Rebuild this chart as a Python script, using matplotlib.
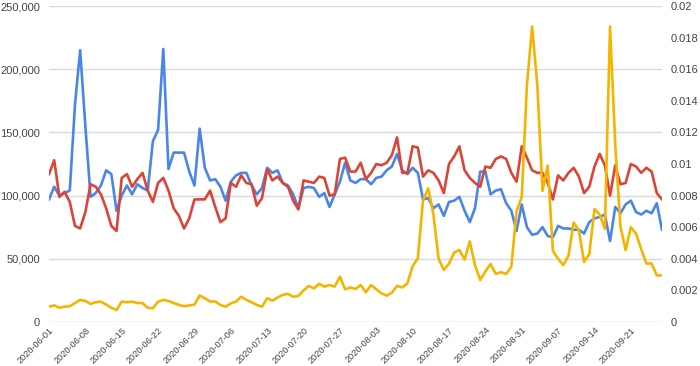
import matplotlib
matplotlib.use("Agg")
import matplotlib.pyplot as plt
import matplotlib.ticker as mticker
import numpy as np
import pandas as pd

dates = pd.date_range("2020-06-01", "2020-09-27", freq="D")

blue_k = [97, 107, 100, 102, 104, 172, 215, 155, 99, 102, 108, 120, 117, 88, 100, 108, 101, 109, 106, 104,
          143, 152, 216, 121, 134, 134, 134, 119, 108, 153, 122, 112, 113, 107, 96, 111, 116, 118, 118, 108,
          101, 106, 122, 118, 120, 110, 108, 101, 90, 106, 107, 106, 99, 102, 91, 101, 111, 126, 112, 110,
          113, 113, 109, 114, 115, 120, 123, 133, 120, 117, 122, 118, 97, 98, 90, 93, 84, 95, 96, 99,
          88, 79, 90, 119, 119, 101, 104, 105, 94, 88, 72, 93, 75, 69, 70, 75, 68, 67, 76, 74,
          74, 73, 73, 70, 79, 82, 83, 85, 64, 91, 86, 93, 96, 87, 85, 88, 86, 94, 73]

red_k = [117, 128, 99, 103, 95, 76, 74, 87, 109, 107, 101, 90, 76, 72, 114, 117, 107, 113, 118, 104,
         95, 110, 114, 104, 90, 84, 74, 82, 97, 97, 97, 104, 91, 79, 82, 110, 107, 116, 110, 109,
         92, 98, 121, 112, 115, 110, 107, 96, 89, 112, 111, 110, 115, 114, 100, 101, 129, 130, 119, 119,
         126, 113, 118, 125, 124, 126, 132, 146, 118, 118, 139, 138, 115, 120, 118, 112, 102, 125, 131, 139,
         120, 114, 110, 107, 123, 122, 129, 131, 129, 118, 111, 139, 130, 120, 118, 118, 110, 97, 116, 112,
         118, 122, 115, 102, 107, 123, 133, 124, 100, 124, 109, 110, 125, 123, 118, 122, 119, 102, 97]

yellow_m = [0.97, 1.05, 0.9, 0.97, 1.0, 1.2, 1.4, 1.33, 1.15, 1.25, 1.29, 1.1, 0.9, 0.76, 1.29, 1.25, 1.29, 1.2, 1.2, 0.9,
            0.87, 1.29, 1.4, 1.33, 1.2, 1.08, 1.0, 1.05, 1.1, 1.68, 1.5, 1.3, 1.3, 1.08, 0.97, 1.18, 1.29, 1.6, 1.4, 1.25,
            1.08, 0.97, 1.5, 1.35, 1.55, 1.72, 1.78, 1.6, 1.65, 2.0, 2.28, 2.13, 2.42, 2.24, 2.34, 2.24, 2.87, 2.07, 2.19, 2.09,
            2.34, 1.88, 2.34, 2.07, 1.81, 1.67, 1.86, 2.28, 2.19, 2.45, 3.54, 4.03, 7.7, 8.46, 6.8, 4.0, 3.3, 3.7, 4.4, 4.56,
            3.95, 5.1, 3.6, 2.66, 3.2, 3.67, 3.05, 3.15, 3.04, 3.5, 7.0, 7.9, 15.0, 18.7, 15.0, 8.3, 9.9, 4.5, 4.0, 3.6,
            4.2, 6.3, 5.8, 3.8, 4.3, 7.15, 6.8, 5.9, 18.7, 11.2, 6.05, 4.55, 6.0, 5.6, 4.6, 3.7, 3.7, 2.95, 2.95]

blue = np.array(blue_k) * 1000
red = np.array(red_k) * 1000
yellow = np.array(yellow_m) / 1000

tick_dates = pd.date_range("2020-06-01", "2020-09-21", freq="7D")

plt.rcParams['font.family'] = ['Liberation Sans', 'DejaVu Sans']

fig = plt.figure(figsize=(7, 3.66), dpi=100)
ax = fig.add_axes([49/700, 1 - 322/366, (662 - 49)/700, (322 - 6)/366])
ax2 = ax.twinx()

grid_c = '#d9d9d9'
for v in range(0, 250001, 50000):
    ax.axhline(v, color=grid_c if v > 0 else '#cccccc', lw=1.0, zorder=0)

ax.plot(dates, blue, color='#4a86e8', lw=1.9, zorder=3, solid_joinstyle='round')
ax.plot(dates, red, color='#db4437', lw=1.9, zorder=4, solid_joinstyle='round')
ax2.plot(dates, yellow, color='#f4b400', lw=1.9, zorder=5, solid_joinstyle='round')

ax.set_ylim(0, 250000)
ax2.set_ylim(0, 0.02)
ax.set_xlim(dates[0], dates[-1])

ax.yaxis.set_major_locator(mticker.MultipleLocator(50000))
ax.yaxis.set_major_formatter(mticker.FuncFormatter(lambda v, p: f"{int(v):,}"))
ax2.yaxis.set_major_locator(mticker.MultipleLocator(0.002))
ax2.yaxis.set_major_formatter(mticker.FuncFormatter(lambda v, p: "0" if v == 0 else f"{v:.3f}".rstrip('0')))

ax.set_xticks(tick_dates)
ax.set_xticklabels([d.strftime("%Y-%m-%d") for d in tick_dates], rotation=45, ha='right',
                   rotation_mode='anchor')

for a in (ax, ax2):
    for s in a.spines.values():
        s.set_visible(False)
    a.tick_params(length=0, labelsize=8, colors='#444444')
ax.tick_params(axis='y', pad=6.5)
ax2.tick_params(axis='y', pad=6)
ax.tick_params(axis='x', pad=2.5, labelsize=6.6)

fig.savefig("out.png", dpi=100)
